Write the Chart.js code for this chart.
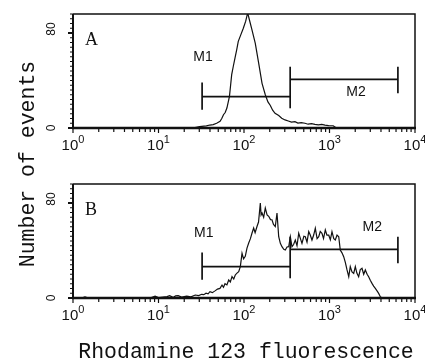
<!DOCTYPE html>
<html>
<head>
<meta charset="utf-8">
<script src="https://cdn.jsdelivr.net/npm/chart.js@4/dist/chart.umd.min.js"></script>
<style>
html, body { margin: 0; padding: 0; background: #fff; }
#wrap { position: relative; width: 425px; height: 362px; }
canvas { position: absolute; left: 0; top: 0; }
</style>
</head>
<body>
<div id="wrap">
  <canvas id="panelA" width="425" height="362"></canvas>
  <canvas id="panelB" width="425" height="362"></canvas>
</div>
<script>
// log10 of fluorescence (channel position) and number of events
var aLog = [0.00, 1.40, 1.48, 1.56, 1.60, 1.64, 1.68, 1.72, 1.74, 1.76, 1.78, 1.80, 1.83, 1.856, 1.875,
  1.895, 1.915, 1.933, 1.96, 1.992, 2.02, 2.043, 2.06, 2.094, 2.132, 2.172, 2.211, 2.249, 2.28, 2.308,
  2.335, 2.363, 2.406, 2.441, 2.48, 2.518, 2.555, 2.596, 2.63, 2.67, 2.713, 2.75, 2.79, 2.83, 2.87,
  2.91, 2.947, 2.99, 3.044, 3.07, 3.09, 4.00];
var aCount = [0, 0, 1.2, 1.8, 2.5, 2.8, 4.0, 5.6, 8, 11.2, 13, 16.8, 26.7, 44.9, 52,
  59, 66, 73, 78, 84, 90, 97, 92, 82.5, 71.3, 54.5, 37.6, 28, 22, 19,
  15, 12.4, 10.5, 8.2, 6.8, 5.9, 5.0, 5.3, 4.2, 4.6, 4.0, 3.2, 3.6, 3.0, 2.6,
  3.0, 2.4, 2.0, 1.9, 0.5, 0, 0];

var bLog = [0.00, 0.10, 0.14, 0.18, 0.90, 0.96, 1.00, 1.10, 1.13, 1.17, 1.20, 1.23, 1.27, 1.33, 1.38,
  1.43, 1.47, 1.505, 1.53, 1.556, 1.58, 1.602, 1.63, 1.661, 1.69, 1.719, 1.743, 1.76, 1.778, 1.80,
  1.821, 1.84, 1.86, 1.88, 1.898, 1.918, 1.938, 1.957, 1.977, 1.995, 2.015, 2.035, 2.055, 2.075, 2.094,
  2.113, 2.13, 2.152, 2.17, 2.191, 2.20, 2.211, 2.23, 2.249, 2.27, 2.289, 2.31, 2.327, 2.345, 2.366,
  2.386, 2.406, 2.425, 2.444, 2.465, 2.483, 2.503, 2.523, 2.542, 2.561, 2.58, 2.60, 2.62, 2.64, 2.66,
  2.678, 2.70, 2.717, 2.737, 2.757, 2.775, 2.795, 2.815, 2.834, 2.855, 2.874, 2.892, 2.912, 2.93, 2.951,
  2.97, 2.991, 3.01, 3.029, 3.05, 3.068, 3.088, 3.108, 3.126, 3.146, 3.166, 3.185, 3.205, 3.225, 3.243,
  3.263, 3.283, 3.302, 3.32, 3.341, 3.36, 3.38, 3.40, 3.419, 3.44, 3.458, 3.477, 3.497, 3.516, 3.536,
  3.556, 3.575, 3.594, 3.614, 4.00];
var bCount = [0, 0, 1.0, 0, 0, 1.5, 0.3, 1.2, 2.0, 0.5, 1.8, 2.0, 0.8, 1.6, 1.0,
  2.5, 2.0, 3.1, 2.8, 4.0, 3.5, 5.3, 4.5, 6.0, 7.5, 8.1, 10.9, 9, 12, 11,
  15.2, 13.5, 18, 16, 19.4, 21, 22.2, 26.4, 37.6, 33, 35.1, 42, 46.3, 50, 54.7,
  58.9, 55, 60.2, 64, 79.9, 70, 71.6, 68, 75.8, 70, 68.8, 66, 65.9, 62, 60.2,
  71.6, 51.6, 46, 43.2, 41, 40.4, 43, 43.2, 51.6, 43.2, 45, 48.8, 44, 54.5, 50,
  46, 52, 51.6, 47, 55.9, 53, 48.8, 53, 58.7, 50, 51.6, 56, 54.5, 50, 57.3,
  53, 52.9, 49, 55.9, 50, 48.8, 53, 51.6, 40.4, 38, 34.8, 30, 23.6, 17.9, 26.4,
  22, 20.8, 26.4, 21, 17.9, 24, 25, 20, 23.6, 20, 17.9, 15, 12.3, 10, 8.1,
  6, 3.9, 1.1, 0, 0];

// gates M1 and M2: edges (log10 fluorescence), bar levels, cap extents
var gateEdges = [1.51, 2.54, 3.80];
var gateLevels = [26.5, 41];
var capLow = [15.4, 16.6, 29.2];
var capHigh = [38.3, 51.6, 51.6];

var decades = [0, 1, 2, 3, 4];
var yLabels = [0, 80];

var black = '#111';

function pts(logs, vals) {
  return logs.map(function (e, i) { return { x: Math.pow(10, e), y: vals[i] }; });
}

function gateSets() {
  var segs = [
    pts([gateEdges[0], gateEdges[0]], [capLow[0], capHigh[0]]),
    pts([gateEdges[0], gateEdges[1]], [gateLevels[0], gateLevels[0]]),
    pts([gateEdges[1], gateEdges[1]], [capLow[1], capHigh[1]]),
    pts([gateEdges[1], gateEdges[2]], [gateLevels[1], gateLevels[1]]),
    pts([gateEdges[2], gateEdges[2]], [capLow[2], capHigh[2]])
  ];
  return segs.map(function (s) {
    return { data: s, borderColor: black, borderWidth: 1.7, pointRadius: 0, tension: 0 };
  });
}

var decor = {
  id: 'decor',
  afterDraw: function (chart, args, o) {
    var ctx = chart.ctx, a = chart.chartArea;
    var xs = chart.scales.x, ys = chart.scales.y;
    ctx.save();
    ctx.strokeStyle = black;
    ctx.fillStyle = black;

    // frame
    ctx.lineWidth = 1.5;
    ctx.beginPath();
    ctx.moveTo(a.left, a.top); ctx.lineTo(a.right, a.top); ctx.lineTo(a.right, a.bottom);
    ctx.stroke();
    ctx.lineWidth = 2;
    ctx.beginPath(); ctx.moveTo(a.left, a.top); ctx.lineTo(a.left, a.bottom); ctx.stroke();
    ctx.lineWidth = 2.6;
    ctx.beginPath(); ctx.moveTo(a.left - 1, a.bottom); ctx.lineTo(a.right + 1, a.bottom); ctx.stroke();

    // x ticks
    ctx.lineWidth = 1.2;
    decades.forEach(function (d) {
      var px = xs.getPixelForValue(Math.pow(10, d));
      ctx.beginPath(); ctx.moveTo(px, a.bottom); ctx.lineTo(px, a.bottom + 5); ctx.stroke();
      if (d < 4) {
        for (var m = 2; m < 10; m++) {
          var mx = xs.getPixelForValue(m * Math.pow(10, d));
          ctx.beginPath(); ctx.moveTo(mx, a.bottom); ctx.lineTo(mx, a.bottom + 4); ctx.stroke();
        }
      }
    });

    // y ticks
    for (var v = 0; v <= ys.max; v += 4) {
      var py = ys.getPixelForValue(v);
      var major = yLabels.indexOf(v) >= 0;
      ctx.lineWidth = major ? 2 : 1;
      ctx.beginPath(); ctx.moveTo(a.left, py); ctx.lineTo(a.left - (major ? 5 : 3), py); ctx.stroke();
    }

    // x tick labels
    ctx.textBaseline = 'alphabetic';
    decades.forEach(function (d) {
      var px = xs.getPixelForValue(Math.pow(10, d));
      ctx.font = '15px "Liberation Sans", Arial, sans-serif';
      var w1 = ctx.measureText('10').width;
      ctx.font = '11px "Liberation Sans", Arial, sans-serif';
      var w2 = ctx.measureText(String(d)).width;
      var x0 = px - (w1 + w2) / 2;
      ctx.font = '15px "Liberation Sans", Arial, sans-serif';
      ctx.textAlign = 'left';
      ctx.fillText('10', x0, a.bottom + 22);
      ctx.font = '11px "Liberation Sans", Arial, sans-serif';
      ctx.fillText(String(d), x0 + w1, a.bottom + 15);
    });

    // y tick labels, rotated
    ctx.font = '12px "Liberation Sans", Arial, sans-serif';
    ctx.textAlign = 'center';
    ctx.textBaseline = 'middle';
    yLabels.forEach(function (v) {
      var py = ys.getPixelForValue(v) - (v > 0 ? 4 : 0);
      ctx.save();
      ctx.translate(a.left - 21, py);
      ctx.rotate(-Math.PI / 2);
      ctx.fillText(String(v), 0, 0);
      ctx.restore();
    });

    // panel letter
    ctx.font = '18px "Liberation Serif", "Times New Roman", serif';
    ctx.textAlign = 'left';
    ctx.textBaseline = 'alphabetic';
    ctx.fillText(o.letter, a.left + 12, a.top + 31);

    // gate names
    ctx.font = '14px "Liberation Sans", Arial, sans-serif';
    ctx.textAlign = 'center';
    ctx.textBaseline = 'middle';
    o.gateNames.forEach(function (g) {
      ctx.fillText(g.text, xs.getPixelForValue(Math.pow(10, g.at[0])), ys.getPixelForValue(g.at[1]));
    });

    // axis titles (drawn on the lower panel only)
    if (o.titles) {
      ctx.font = '21.5px "Liberation Mono", "Courier New", monospace';
      ctx.textAlign = 'center';
      ctx.textBaseline = 'alphabetic';
      ctx.fillText('Rhodamine 123 fluorescence', (a.left + a.right) / 2 + 2, 358);
      ctx.save();
      ctx.translate(34, 164);
      ctx.rotate(-Math.PI / 2);
      ctx.fillText('Number of events', 0, 0);
      ctx.restore();
    }
    ctx.restore();
  }
};

function makePanel(id, logs, counts, pad, opts) {
  var sets = [{ data: pts(logs, counts), borderColor: black, borderWidth: 1.2, pointRadius: 0, tension: 0 }]
    .concat(gateSets());
  return new Chart(document.getElementById(id), {
    type: 'line',
    data: { datasets: sets },
    options: {
      responsive: false,
      animation: false,
      events: [],
      layout: { padding: pad },
      plugins: { legend: { display: false }, tooltip: { enabled: false }, decor: opts },
      scales: {
        x: { type: 'logarithmic', min: 1, max: 10000, display: false },
        y: { type: 'linear', min: 0, max: 96, display: false }
      }
    },
    plugins: [decor]
  });
}

makePanel('panelA', aLog, aCount, { left: 73, top: 14, right: 10, bottom: 234 }, {
  letter: 'A',
  gateNames: [{ text: 'M1', at: [1.52, 60] }, { text: 'M2', at: [3.31, 30] }]
});
makePanel('panelB', bLog, bCount, { left: 73, top: 184, right: 10, bottom: 64 }, {
  letter: 'B',
  gateNames: [{ text: 'M1', at: [1.53, 55] }, { text: 'M2', at: [3.50, 60] }],
  titles: true
});
</script>
</body>
</html>
